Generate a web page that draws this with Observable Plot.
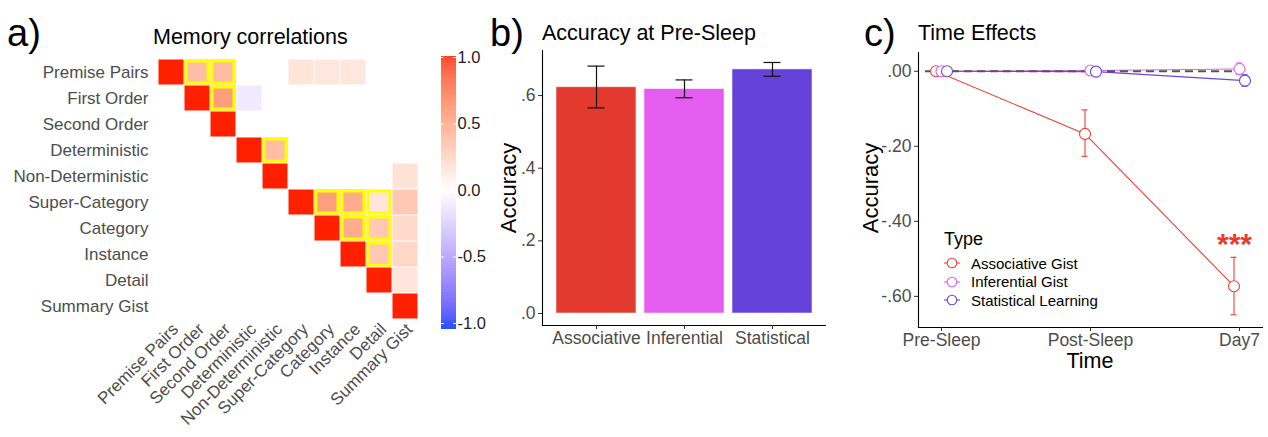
<!DOCTYPE html>
<html>
<head>
<meta charset="utf-8">
<script src="https://cdn.jsdelivr.net/npm/d3@7"></script>
<script src="https://cdn.jsdelivr.net/npm/@observablehq/plot@0.6"></script>
<style>
  html, body { margin: 0; padding: 0; background: #fff; }
  #root { position: relative; width: 1268px; height: 437px; overflow: hidden; font-family: "Liberation Sans", Arial, sans-serif; }
  .abs { position: absolute; white-space: nowrap; }
  .panel { position: absolute; top: 0; }
  .lab { font-size: 38px; color: #000; line-height: 1; }
  .ttl { font-size: 21.5px; color: #000; line-height: 1; }
  .axt { font-size: 22px; color: #000; line-height: 1; }
  .rot { transform: translate(-50%, -50%) rotate(-90deg); }
</style>
</head>
<body>
<div id="root"></div>
<script>
// ---------- Panel a: correlation matrix ----------
const vars = ["Premise Pairs","First Order","Second Order","Deterministic","Non-Deterministic",
              "Super-Category","Category","Instance","Detail","Summary Gist"];
const corrRow   = [0,0,0,0,0,0, 1,1,1, 2, 3,3, 4,4, 5,5,5,5,5, 6,6,6,6, 7,7,7, 8,8, 9];
const corrCol   = [0,1,2,5,6,7, 1,2,3, 2, 3,4, 4,9, 5,6,7,8,9, 6,7,8,9, 7,8,9, 8,9, 9];
const corrValue = [1,0.35,0.37,0.15,0.13,0.13, 1,0.52,-0.10, 1, 1,0.36, 1,0.16,
                   1,0.52,0.45,0.14,0.30, 1,0.45,0.30,0.20, 1,0.30,0.22, 1,0.14, 1];
const corrSig   = [0,1,1,0,0,0, 0,1,0, 0, 0,1, 0,0, 0,1,1,1,0, 0,1,1,0, 0,1,0, 0,0, 0];
const colorbarTicks = [-1, -0.5, 0, 0.5, 1];

// ---------- Panel b: accuracy at pre-sleep ----------
const accTypes = ["Associative","Inferential","Statistical"];
const accMean  = [0.623, 0.618, 0.672];
const accLow   = [0.566, 0.594, 0.653];
const accHigh  = [0.681, 0.643, 0.691];
const accTicks = [0, 0.2, 0.4, 0.6];

// ---------- Panel c: time effects ----------
const times = ["Pre-Sleep","Post-Sleep","Day7"];
const seriesNames = ["Associative Gist","Inferential Gist","Statistical Learning"];
const assocMean = [0, -0.167, -0.573], assocLow = [0, -0.227, -0.649], assocHigh = [0, -0.103, -0.496];
const infMean   = [0,  0.002,  0.006], infLow   = [0, -0.008, -0.009], infHigh   = [0,  0.012,  0.022];
const statMean  = [0, -0.001, -0.025], statLow  = [0, -0.010, -0.040], statHigh  = [0,  0.008, -0.009];
const timeTicks = [0, -0.2, -0.4, -0.6];

const barColors  = ["#E23A2E", "#E45CF0", "#6441D9"];
const lineColors = ["#EE4035", "#E45CF0", "#6846DF"];
const corrColors = ["#0033FF", "#FFFFFF", "#FF2000"];

const FONT = "'Liberation Sans', Arial, sans-serif";
const root = document.getElementById("root");

function place(el, left) { el.classList.add("panel"); el.style.left = left + "px"; root.appendChild(el); }
function html(cls, text, left, top, extra) {
  const d = document.createElement("div");
  d.className = "abs " + cls; d.textContent = text;
  d.style.left = left + "px"; d.style.top = top + "px";
  if (extra) Object.assign(d.style, extra);
  root.appendChild(d); return d;
}

// ---- a) heatmap
const cells = corrRow.map((r, i) => ({row: vars[r], col: vars[corrCol[i]], value: corrValue[i], sig: corrSig[i]}));
const colorScale = {type: "linear", domain: [-1, 0, 1], range: corrColors, interpolate: "lab"};
const heat = Plot.plot({
  width: 430, height: 437,
  marginLeft: 156, marginRight: 11, marginTop: 57, marginBottom: 117,
  style: {fontFamily: FONT, fontSize: "17px", color: "#4d4d4d", background: "transparent"},
  x: {domain: vars, label: null, padding: 0},
  y: {domain: vars, label: null, padding: 0},
  color: colorScale,
  marks: [
    Plot.cell(cells, {x: "col", y: "row", fill: "value", inset: 0.5}),
    Plot.cell(cells.filter(d => d.sig), {x: "col", y: "row", fill: "none", stroke: "#FFFF00", strokeWidth: 3, inset: 2}),
    Plot.axisY({tickSize: 0, tickPadding: 8, fontSize: 17, fill: "#4d4d4d"}),
    Plot.axisX({anchor: "bottom", tickSize: 0, tickPadding: 4, tickRotate: -45, fontSize: 17, fill: "#4d4d4d", dx: 4, dy: 2})
  ]
});
place(heat, 0);

// ---- colorbar
const cbStops = d3.range(-1.045, 1.0075, 0.005);
const cbar = Plot.plot({
  width: 60, height: 437,
  marginLeft: 11, marginRight: 34, marginTop: 57, marginBottom: 114,
  style: {fontFamily: FONT, fontSize: "16.5px", color: "#222", background: "transparent"},
  x: {domain: [0, 1], axis: null},
  y: {domain: [-1, 1], label: null},
  color: colorScale,
  marks: [
    Plot.rectY(cbStops, {x1: 0, x2: 1, y1: d => d, y2: d => Math.min(d + 0.0055, 1.0075), fill: d => d + 0.0025}),
    Plot.ruleY(colorbarTicks, {x1: 0, x2: 0.2, stroke: "white", strokeWidth: 1}),
    Plot.ruleY(colorbarTicks, {x1: 0.8, x2: 1, stroke: "white", strokeWidth: 1}),
    Plot.axisY(colorbarTicks, {anchor: "right", tickSize: 0, tickPadding: 1, fontSize: 16.5, fill: "#222",
      tickFormat: d => d.toFixed(1)})
  ]
});
place(cbar, 430);

// ---- b) bars
const acc = accTypes.map((t, i) => ({type: t, mean: accMean[i], lo: accLow[i], hi: accHigh[i]}));
const bars = Plot.plot({
  width: 360, height: 437,
  marginLeft: 72, marginRight: 5, marginTop: 50, marginBottom: 112,
  style: {fontFamily: FONT, fontSize: "17.5px", color: "#333", background: "transparent"},
  x: {domain: accTypes, label: null, paddingInner: 0.096, paddingOuter: 0.147},
  y: {domain: [-0.033, 0.724], label: null},
  color: {domain: accTypes, range: barColors},
  marks: [
    Plot.barY(acc, {x: "type", y1: 0, y2: "mean", fill: "type", stroke: "white", strokeOpacity: 0.55, strokeWidth: 1}),
    Plot.ruleX(acc, {x: "type", y1: "lo", y2: "hi", stroke: "#111", strokeWidth: 1.2}),
    Plot.tickY(acc, {x: "type", y: "lo", stroke: "#111", strokeWidth: 1.2, insetLeft: 31.5, insetRight: 31.5}),
    Plot.tickY(acc, {x: "type", y: "hi", stroke: "#111", strokeWidth: 1.2, insetLeft: 31.5, insetRight: 31.5}),
    Plot.frame({anchor: "left", stroke: "#000", strokeWidth: 1.1}),
    Plot.frame({anchor: "bottom", stroke: "#000", strokeWidth: 1.1}),
    Plot.axisY(accTicks, {tickSize: 4, tickPadding: 3, fontSize: 17.5, fill: "#4d4d4d", stroke: "#333",
      tickFormat: d => d === 0 ? ".0" : "." + Math.round(d * 10)}),
    Plot.axisX({tickSize: 4, tickPadding: 2, fontSize: 17.5, fill: "#4d4d4d", stroke: "#333"})
  ]
});
place(bars, 470);

// ---- c) lines
const means = [assocMean, infMean, statMean], lows = [assocLow, infLow, statLow], highs = [assocHigh, infHigh, statHigh];
const dodge = [-5.5, 0, 5.5];
const series = seriesNames.map((s, k) => times.map((t, i) => ({series: s, time: t, mean: means[k][i], lo: lows[k][i], hi: highs[k][i]})));
const seriesMarks = [];
series.forEach((data, k) => {
  const c = lineColors[k], dx = dodge[k];
  const withErr = data.filter(d => d.hi !== d.lo);
  seriesMarks.push(
    Plot.ruleX(withErr, {x: "time", y1: "lo", y2: "hi", stroke: c, strokeOpacity: 0.85, strokeWidth: 1.3, dx}),
    Plot.ruleY(withErr, {x1: "time", x2: "time", y: "lo", stroke: c, strokeOpacity: 0.85, strokeWidth: 1.3, dx, insetLeft: -3, insetRight: -3}),
    Plot.ruleY(withErr, {x1: "time", x2: "time", y: "hi", stroke: c, strokeOpacity: 0.85, strokeWidth: 1.3, dx, insetLeft: -3, insetRight: -3}),
    Plot.line(data, {x: "time", y: "mean", stroke: c, strokeWidth: 1.1, dx})
  );
});
const dotMarks = series.map((data, k) => Plot.dot(data, {x: "time", y: "mean", r: 5.5, fill: "white", stroke: lineColors[k], strokeWidth: 1.1, dx: dodge[k]}));
const sigNote = [{time: "Day7", y: -0.462, label: "***"}];
const lines = Plot.plot({
  width: 418, height: 437,
  marginLeft: 68, marginRight: 6, marginTop: 52, marginBottom: 110,
  style: {fontFamily: FONT, fontSize: "17.5px", color: "#333", background: "transparent"},
  x: {type: "point", domain: times, padding: 0.147, label: null},
  y: {domain: [-0.683, 0.05], label: null},
  marks: [
    ...seriesMarks,
    Plot.ruleY([0], {x1: () => "Pre-Sleep", x2: () => "Day7", stroke: "#555", strokeWidth: 2, strokeDasharray: "8,5", insetLeft: -16}),
    ...dotMarks,
    Plot.text(sigNote, {x: "time", y: "y", text: "label", fill: "#EE3A2E", fontSize: 30, fontWeight: "bold", dx: -5, lineAnchor: "middle"}),
    Plot.frame({anchor: "left", stroke: "#000", strokeWidth: 1.1}),
    Plot.frame({anchor: "bottom", stroke: "#000", strokeWidth: 1.1}),
    Plot.axisY(timeTicks, {tickSize: 4, tickPadding: 3, fontSize: 17.5, fill: "#4d4d4d", stroke: "#333",
      tickFormat: d => d === 0 ? ".00" : "-." + String(Math.round(-d * 100)).padStart(2, "0")}),
    Plot.axisX({tickSize: 4, tickPadding: 2, fontSize: 17.5, fill: "#4d4d4d", stroke: "#333"})
  ]
});
place(lines, 850);

// ---- text overlays
html("lab", "a)", 7, 14);
html("lab", "b)", 490, 14);
html("lab", "c)", 864, 14);
html("ttl", "Memory correlations", 153, 27);
html("ttl", "Accuracy at Pre-Sleep", 542, 23);
html("ttl", "Time Effects", 918, 23);
html("axt rot", "Accuracy", 509, 188);
html("axt rot", "Accuracy", 871, 188);
html("axt", "Time", 1090, 351, {transform: "translateX(-50%)", fontSize: "21.5px"});

// legend
const leg = document.createElement("div");
leg.className = "abs"; leg.style.left = "944px"; leg.style.top = "229px";
leg.innerHTML = `<div style="font-size:18px;color:#000;margin-bottom:4px;">Type</div>` +
  seriesNames.map((s, k) => `<div style="display:flex;align-items:center;height:18.5px;font-size:15px;color:#000;">
    <svg width="16" height="14" style="margin-right:11px"><line x1="0" x2="16" y1="7" y2="7" stroke="${lineColors[k]}" stroke-width="1.1"/>
    <circle cx="8" cy="7" r="4.8" fill="white" stroke="${lineColors[k]}" stroke-width="1.1"/></svg>${s}</div>`).join("");
root.appendChild(leg);
</script>
</body>
</html>
